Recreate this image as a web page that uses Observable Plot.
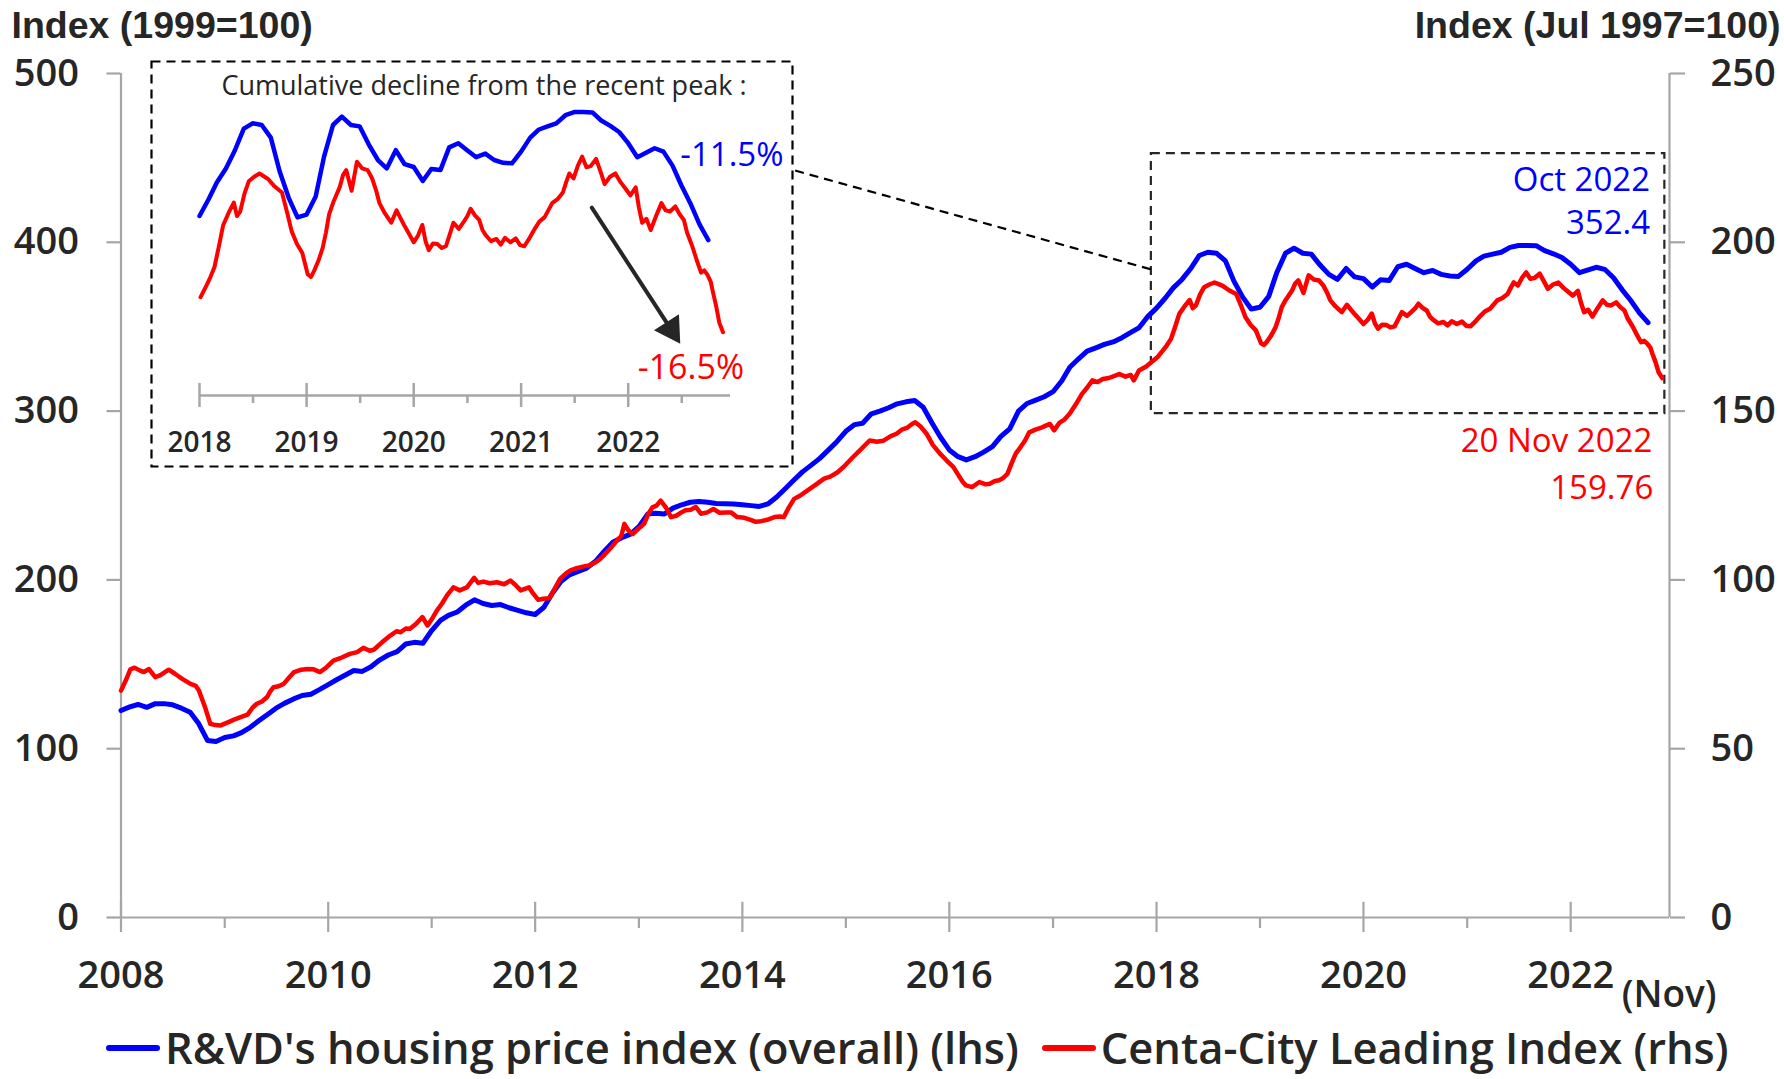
<!DOCTYPE html>
<html>
<head>
<meta charset="utf-8">
<script src="https://cdn.jsdelivr.net/npm/d3@7"></script>
<script src="https://cdn.jsdelivr.net/npm/@observablehq/plot@0.6"></script>
<style>
  html, body { margin: 0; padding: 0; background: #fff; }
  #wrap { position: relative; width: 1784px; height: 1079px; font-family: "Open Sans", sans-serif; color: #262626; overflow: hidden; }
  #main { position: absolute; left: 0; top: 0; }
  #inset { position: absolute; left: 150px; top: 60px; }
  #legend { position: absolute; left: 106px; top: 1023px; display: flex; align-items: center; font-size: 43.5px; font-weight: 600; white-space: nowrap; line-height: 50px; }
  .key { display: inline-block; width: 54px; height: 6px; border-radius: 3px; margin-right: 5px; }
</style>
</head>
<body>
<div id="wrap"><div id="main"></div><div id="inset"></div><div id="legend"></div></div>
<script>
// ---------------- DATA ----------------
// R&VD's housing price index (overall), monthly from Jan 2008 to Oct 2022 (lhs, 1999=100)
const blueStartYear = 2008;
const blueValues = [
  122.6, 124.8, 126.2, 124.5, 126.7, 126.7, 126.0, 124.0, 121.6, 114.9, 104.9, 104.3, // 2008
  106.6, 107.6, 109.5, 112.7, 116.5, 120.3, 124.0, 127.0, 129.5, 131.5, 132.3, 135.0, // 2009
  138.0, 141.0, 143.5, 146.3, 145.8, 148.5, 152.5, 155.5, 157.5, 162.0, 163.0, 162.5, // 2010
  170.0, 176.0, 179.0, 181.0, 185.0, 188.2, 186.0, 184.8, 185.4, 183.5, 182.0, 180.5, // 2011
  179.5, 183.8, 192.0, 199.0, 203.0, 205.0, 207.0, 211.0, 217.0, 222.3, 225.0, 227.0, // 2012
  231.5, 239.0, 239.5, 239.0, 242.5, 244.5, 246.0, 246.5, 246.0, 245.3, 245.1, 245.0, // 2013
  244.5, 244.0, 243.5, 245.0, 249.0, 254.0, 259.0, 264.0, 268.0, 272.0, 277.0, 282.0, // 2014
  288.0, 292.0, 292.8, 298.4, 300.0, 302.0, 304.3, 305.5, 306.3, 302.3, 293.0, 284.5, // 2015
  277.0, 273.0, 271.1, 273.0, 275.7, 279.0, 285.0, 289.5, 300.0, 304.5, 306.5, 308.5, // 2016
  311.5, 318.0, 326.0, 331.0, 335.5, 337.5, 339.5, 341.0, 343.5, 346.5, 349.5, 356.0, // 2017
  361.0, 367.0, 373.0, 378.0, 384.3, 392.2, 394.1, 393.5, 389.0, 377.0, 367.5, 360.5, // 2018
  361.5, 368.0, 382.0, 393.5, 396.5, 393.5, 393.0, 386.5, 381.0, 378.0, 384.5, 379.5, // 2019
  378.5, 373.5, 377.8, 377.4, 385.5, 387.0, 384.5, 382.0, 383.3, 381.0, 380.0, 379.8, // 2020
  384.0, 389.0, 391.8, 393.0, 394.1, 397.0, 398.1, 398.1, 398.0, 395.1, 393.2, 391.0, // 2021
  387.0, 382.0, 383.5, 385.2, 384.0, 379.0, 372.0, 365.5, 358.0, 352.4                 // 2022
];

// Centa-City Leading Index, weekly (rhs, Jul 1997=100): time as decimal year
const redTimes = [
  2008.00,2008.05,2008.09,2008.13,2008.18,2008.22,2008.27,2008.33,2008.38,2008.42,2008.46,2008.52,2008.59,2008.67,2008.72,2008.75,2008.81,2008.86,2008.91,2008.96,
  2009.03,2009.09,2009.16,2009.22,2009.27,2009.31,2009.36,2009.41,2009.44,2009.47,2009.52,2009.57,2009.62,2009.67,2009.74,2009.80,2009.86,2009.92,2009.98,
  2010.05,2010.13,2010.21,2010.28,2010.34,2010.40,2010.44,2010.52,2010.60,2010.66,2010.70,2010.75,2010.79,2010.85,2010.91,2010.96,
  2011.01,2011.05,2011.10,2011.15,2011.21,2011.27,2011.34,2011.41,2011.45,2011.50,2011.56,2011.63,2011.70,2011.76,2011.81,2011.86,2011.94,2011.98,
  2012.03,2012.08,2012.14,2012.19,2012.24,2012.30,2012.34,2012.40,2012.47,2012.52,2012.57,2012.62,2012.66,2012.73,2012.79,2012.83,2012.86,2012.90,2012.94,2012.99,
  2013.05,2013.09,2013.13,2013.17,2013.21,2013.26,2013.31,2013.36,2013.40,2013.45,2013.50,2013.55,2013.60,2013.66,2013.72,2013.78,2013.84,2013.89,2013.95,
  2014.02,2014.08,2014.13,2014.18,2014.24,2014.31,2014.36,2014.40,2014.45,2014.50,2014.56,2014.63,2014.70,2014.79,2014.85,2014.92,2014.98,
  2015.07,2015.15,2015.23,2015.30,2015.36,2015.43,2015.49,2015.54,2015.59,2015.64,2015.67,2015.72,2015.78,2015.84,2015.91,2015.97,
  2016.04,2016.08,2016.13,2016.16,2016.22,2016.29,2016.35,2016.39,2016.44,2016.48,2016.52,2016.56,2016.60,2016.64,2016.69,2016.73,2016.77,2016.83,2016.88,2016.93,2016.97,
  2017.01,2017.06,2017.11,2017.16,2017.22,2017.28,2017.33,2017.38,2017.43,2017.48,2017.54,2017.60,2017.64,2017.70,2017.75,2017.78,2017.83,2017.90,2017.97,
  2018.01,2018.06,2018.10,2018.14,2018.18,2018.22,2018.27,2018.32,2018.35,2018.38,2018.42,2018.46,2018.51,2018.56,2018.60,2018.64,2018.70,2018.77,2018.82,2018.86,2018.91,2018.96,
  2019.01,2019.04,2019.07,2019.11,2019.15,2019.18,2019.21,2019.25,2019.31,2019.34,2019.37,2019.42,2019.47,2019.52,2019.57,2019.61,2019.65,2019.68,2019.73,2019.79,2019.84,2019.88,2019.91,2019.96,
  2020.00,2020.04,2020.08,2020.11,2020.14,2020.18,2020.22,2020.26,2020.30,2020.34,2020.37,2020.42,2020.46,2020.50,2020.53,2020.57,2020.61,2020.64,2020.67,2020.72,2020.77,2020.81,2020.85,2020.90,2020.95,2020.99,
  2021.03,2021.08,2021.13,2021.17,2021.22,2021.29,2021.34,2021.39,2021.42,2021.45,2021.49,2021.53,2021.57,2021.61,2021.65,2021.70,2021.74,2021.78,2021.83,2021.88,2021.93,2021.97,
  2022.02,2022.07,2022.10,2022.13,2022.17,2022.21,2022.26,2022.31,2022.35,2022.39,2022.44,2022.48,2022.52,2022.55,2022.60,2022.64,2022.68,2022.71,2022.74,2022.77,2022.79,2022.82,2022.85,2022.885
];
const redValues = [
  67.2,70.5,73.5,74.0,73.2,72.7,73.6,71.2,71.8,72.6,73.4,72.2,70.7,69.2,68.6,67.3,62.3,57.4,57.0,56.9,
  57.8,58.6,59.4,60.1,62.2,63.3,64.0,65.3,67.0,68.2,68.5,69.2,71.0,72.7,73.4,73.6,73.5,72.7,74.0,
  76.1,77.0,78.1,78.6,79.9,79.0,79.3,81.5,83.5,84.8,84.5,85.6,85.5,87.0,89.0,86.5,
  88.8,90.9,93.0,95.5,97.8,96.9,97.8,100.6,99.1,99.5,99.0,99.3,98.7,99.8,98.5,96.9,97.8,96.0,
  94.1,94.4,94.6,97.5,100.3,102.0,102.8,103.5,104.0,104.3,105.0,106.0,107.2,109.5,111.7,113.0,116.6,114.6,113.6,115.0,
  116.6,119.5,121.5,122.0,123.5,121.5,118.6,119.0,119.8,120.6,120.8,121.6,119.6,120.0,121.0,119.9,120.0,120.0,118.6,
  118.4,117.8,117.2,117.4,117.8,118.6,118.8,118.6,121.5,124.0,125.0,126.5,128.0,130.0,130.6,131.9,133.5,
  136.4,138.8,141.3,140.9,141.2,142.5,143.3,144.5,145.0,146.2,146.7,145.5,143.3,140.0,137.4,135.5,
  133.4,131.4,129.0,128.0,127.5,129.0,128.3,128.5,129.3,129.5,130.2,131.4,134.5,137.4,139.5,141.3,143.7,144.5,145.0,145.7,146.2,
  144.3,146.5,147.5,149.2,152.0,155.1,157.0,159.1,158.6,159.5,159.8,160.5,161.0,160.2,160.7,159.1,162.0,163.2,165.0,
  166.0,167.9,169.5,171.4,175.0,178.8,181.0,182.9,180.5,181.3,184.5,186.7,187.5,188.1,187.6,187.1,185.8,184.7,181.0,177.8,175.5,173.9,
  170.1,169.6,170.7,172.5,174.8,177.5,180.8,183.0,185.7,187.8,188.7,185.0,190.2,189.0,188.7,187.3,185.0,182.8,181.0,179.3,181.5,180.0,178.9,177.2,
  175.8,177.0,178.9,176.0,174.4,175.6,175.5,174.8,175.1,177.5,179.3,178.2,179.3,180.5,181.8,180.6,179.8,178.0,177.1,176.0,176.4,175.4,176.6,175.8,176.5,175.3,
  175.1,176.6,178.3,179.5,180.3,182.8,183.5,184.7,186.5,188.1,187.2,189.5,191.1,189.2,189.4,190.7,188.5,186.2,187.5,188.1,186.5,185.5,
  184.2,185.6,182.0,179.3,180.0,178.0,180.5,182.8,181.5,181.3,182.2,180.8,179.8,177.5,175.0,172.6,170.4,170.8,170.0,168.8,167.0,164.5,161.5,159.76
];

// axes / tick labels
const lhsTicks = [0, 100, 200, 300, 400, 500];
const rhsPerLhs = 0.5;                 // rhs scale = lhs / 2
const majorYears = [2008, 2010, 2012, 2014, 2016, 2018, 2020, 2022];
const minorYears = [2009, 2011, 2013, 2015, 2017, 2019, 2021];
const insetYears = [2018, 2019, 2020, 2021, 2022];
const insetHalfYears = [2018.5, 2019.5, 2020.5, 2021.5, 2022.5];

// texts
const leftTitle = "Index (1999=100)";
const rightTitle = "Index (Jul 1997=100)";
const xNote = "(Nov)";
const blueName = "R&VD's housing price index (overall) (lhs)";
const redName = "Centa-City Leading Index (rhs)";
const blueEndLabel = ["Oct 2022", "352.4"];
const redEndLabel = ["20 Nov 2022", "159.76"];
const insetTitle = "Cumulative decline from the recent peak :";
const blueDecline = "-11.5%";
const redDecline = "-16.5%";

// zoom box (data coordinates) and connector
const zoomBox = {t1: 2017.95, t2: 2022.91, v1: 298.5, v2: 452.5};
const connector = {t1: 2014.51, v1: 442.5, t2: 2017.95, v2: 383.9};
const insetArrow = {t1: 2021.66, v1: 364.0, t2: 2022.40, v2: 320.5};

// ---------------- BUILD ----------------
const BLUE = "#0000FF", RED = "#FF0000", GRAY = "#A6A6A6", INK = "#262626";
const FONT = '"Open Sans", "Noto Sans", sans-serif';
const TITLE_FONT = '"Liberation Sans", Arial, sans-serif';
const toDate = t => { const y = Math.floor(t); const s = Date.UTC(y, 0, 1), e = Date.UTC(y + 1, 0, 1); return new Date(s + (t - y) * (e - s)); };

const blue = blueValues.map((v, i) => ({date: new Date(Date.UTC(blueStartYear, i, 1)), v}));
const red = redTimes.map((t, i) => ({date: toDate(t), v: redValues[i] / rhsPerLhs}));
const blueLast = blue[blue.length - 1];
const redLast = red[red.length - 1];

const X0 = toDate(2008), X1 = toDate(2022.955);
const yearDates = ys => ys.map(toDate);

const main = Plot.plot({
  width: 1784, height: 1010,
  marginLeft: 120.5, marginRight: 115, marginTop: 73, marginBottom: 93,
  style: {fontFamily: FONT, color: INK, background: "transparent", overflow: "visible"},
  x: {type: "utc", domain: [X0, X1], label: null},
  y: {domain: [0, 500], label: null},
  marks: [
    // axis lines
    Plot.ruleY([0], {stroke: GRAY, strokeWidth: 2.2}),
    Plot.ruleX([X0], {y1: 0, y2: 500, stroke: GRAY, strokeWidth: 2.2}),
    Plot.ruleX([X1], {y1: 0, y2: 500, stroke: GRAY, strokeWidth: 2.2}),
    // left axis
    Plot.axisY(lhsTicks, {anchor: "left", tickSize: 14, stroke: GRAY, strokeWidth: 2.2, text: null, label: null}),
    Plot.axisY(lhsTicks, {anchor: "left", tickSize: 0, tickPadding: 42, fontSize: 38, fontWeight: 600, fill: INK, label: null}),
    // right axis (rhs = lhs / 2)
    Plot.axisY(lhsTicks, {anchor: "right", tickSize: 15, stroke: GRAY, strokeWidth: 2.2, text: null, label: null}),
    Plot.axisY(lhsTicks, {anchor: "right", tickSize: 0, tickPadding: 41, fontSize: 38, fontWeight: 600, fill: INK, label: null, tickFormat: d => d * rhsPerLhs}),
    // x axis ticks
    Plot.axisX(yearDates(majorYears), {anchor: "bottom", tickSize: 15, stroke: GRAY, strokeWidth: 2.2, text: null, label: null}),
    Plot.ruleX(yearDates(majorYears), {y1: 0, y2: 9, stroke: GRAY, strokeWidth: 2.2}),
    Plot.axisX(yearDates(minorYears), {anchor: "bottom", tickSize: 11, stroke: GRAY, strokeWidth: 2.2, text: null, label: null}),
    Plot.axisX(yearDates(majorYears), {anchor: "bottom", tickSize: 0, tickPadding: 44, fontSize: 38, fontWeight: 600, fill: INK, label: null, tickFormat: d3.utcFormat("%Y")}),
    // zoom box and connector
    Plot.rect([zoomBox], {x1: d => toDate(d.t1), x2: d => toDate(d.t2), y1: "v1", y2: "v2", fill: "none", stroke: INK, strokeWidth: 2.2, strokeDasharray: "9,6"}),
    Plot.link([connector], {x1: d => toDate(d.t1), y1: "v1", x2: d => toDate(d.t2), y2: "v2", stroke: "#000", strokeWidth: 2.2, strokeDasharray: "9,6"}),
    // series
    Plot.line(blue, {x: "date", y: "v", stroke: BLUE, strokeWidth: 5, strokeLinejoin: "round"}),
    Plot.line(red, {x: "date", y: "v", stroke: RED, strokeWidth: 4.5, strokeLinejoin: "round"}),
    // end labels
    Plot.text([blueLast], {x: "date", y: "v", text: () => blueEndLabel[0], textAnchor: "end", dx: 2, dy: -142, fill: BLUE, fontSize: 33, fontWeight: 500}),
    Plot.text([blueLast], {x: "date", y: "v", text: () => blueEndLabel[1], textAnchor: "end", dx: 2, dy: -99, fill: BLUE, fontSize: 33, fontWeight: 500}),
    Plot.text([redLast], {x: "date", y: "v", text: () => redEndLabel[0], textAnchor: "end", dx: -10, dy: 63, fill: RED, fontSize: 33, fontWeight: 500}),
    Plot.text([redLast], {x: "date", y: "v", text: () => redEndLabel[1], textAnchor: "end", dx: -9, dy: 110, fill: RED, fontSize: 33, fontWeight: 500}),
    // axis titles and note
    Plot.text([leftTitle], {frameAnchor: "top-left", textAnchor: "start", lineAnchor: "middle", dx: -109.5, dy: -48, fontSize: 37.5, fontWeight: 700, fontFamily: TITLE_FONT, fill: INK}),
    Plot.text([rightTitle], {frameAnchor: "top-right", textAnchor: "end", lineAnchor: "middle", dx: 111, dy: -48, fontSize: 37.5, fontWeight: 700, fontFamily: TITLE_FONT, fill: INK}),
    Plot.text([xNote], {frameAnchor: "bottom-right", textAnchor: "end", lineAnchor: "middle", dx: 47, dy: 78, fontSize: 37, fontWeight: 600, fill: INK})
  ]
});
document.getElementById("main").appendChild(main);

// ---------------- INSET ----------------
const IX0 = toDate(2018);
const IY = [296.9, 402.25];
const inset = Plot.plot({
  width: 643, height: 407,
  marginLeft: 49, marginRight: 63, marginTop: 40, marginBottom: 72,
  style: {fontFamily: FONT, color: INK, background: "#fff", overflow: "visible"},
  x: {type: "utc", domain: [IX0, X1], label: null},
  y: {domain: IY, axis: null, label: null},
  marks: [
    Plot.frame({insetLeft: -48, insetRight: -62, insetTop: -39, insetBottom: -71, stroke: "#000", strokeWidth: 2.2, strokeDasharray: "9,6"}),
    Plot.ruleY([IY[0]], {stroke: GRAY, strokeWidth: 2.5}),
    Plot.axisX(yearDates(insetYears), {anchor: "bottom", tickSize: 12, stroke: GRAY, strokeWidth: 2.5, text: null, label: null}),
    Plot.ruleX(yearDates(insetYears), {y1: IY[0], y2: IY[0] + 4.3, stroke: GRAY, strokeWidth: 2.5}),
    Plot.axisX(yearDates(insetHalfYears), {anchor: "bottom", tickSize: 8, stroke: GRAY, strokeWidth: 2.5, text: null, label: null}),
    Plot.axisX(yearDates(insetYears), {anchor: "bottom", tickSize: 0, tickPadding: 37, fontSize: 28, fontWeight: 600, fill: INK, label: null, tickFormat: d3.utcFormat("%Y")}),
    Plot.line(blue.filter(d => d.date >= IX0), {x: "date", y: "v", stroke: BLUE, strokeWidth: 4.5, strokeLinejoin: "round"}),
    Plot.line(red.filter(d => d.date >= IX0), {x: "date", y: "v", stroke: RED, strokeWidth: 4, strokeLinejoin: "round"}),
    Plot.text([insetTitle], {frameAnchor: "top", lineAnchor: "middle", dx: 19, dy: -14, fontSize: 27, fill: INK}),
    Plot.arrow([insetArrow], {x1: d => toDate(d.t1), y1: "v1", x2: d => toDate(d.t2), y2: "v2", stroke: INK, strokeWidth: 4, headLength: 0}),
    Plot.dot([insetArrow], {x: d => toDate(d.t2), y: "v2", symbol: "triangle", r: 11, fill: INK, stroke: "none", rotate: 147.5}),
    Plot.text([blueLast], {x: "date", y: "v", text: () => blueDecline, textAnchor: "start", dx: -28, dy: -85, fill: BLUE, fontSize: 33, fontWeight: 500}),
    Plot.text([redLast], {x: "date", y: "v", text: () => redDecline, textAnchor: "end", dx: 21, dy: 36, fill: RED, fontSize: 34, fontWeight: 500})
  ]
});
document.getElementById("inset").appendChild(inset);

// ---------------- LEGEND ----------------
const legend = document.getElementById("legend");
[[BLUE, blueName, 0], [RED, redName, 23]].forEach(([c, name, gap]) => {
  const item = document.createElement("span");
  item.style.display = "inline-flex";
  item.style.alignItems = "center";
  item.style.marginLeft = gap + "px";
  const key = document.createElement("span");
  key.className = "key";
  key.style.background = c;
  const label = document.createElement("span");
  label.textContent = name;
  item.appendChild(key); item.appendChild(label);
  legend.appendChild(item);
});
</script>
</body>
</html>
